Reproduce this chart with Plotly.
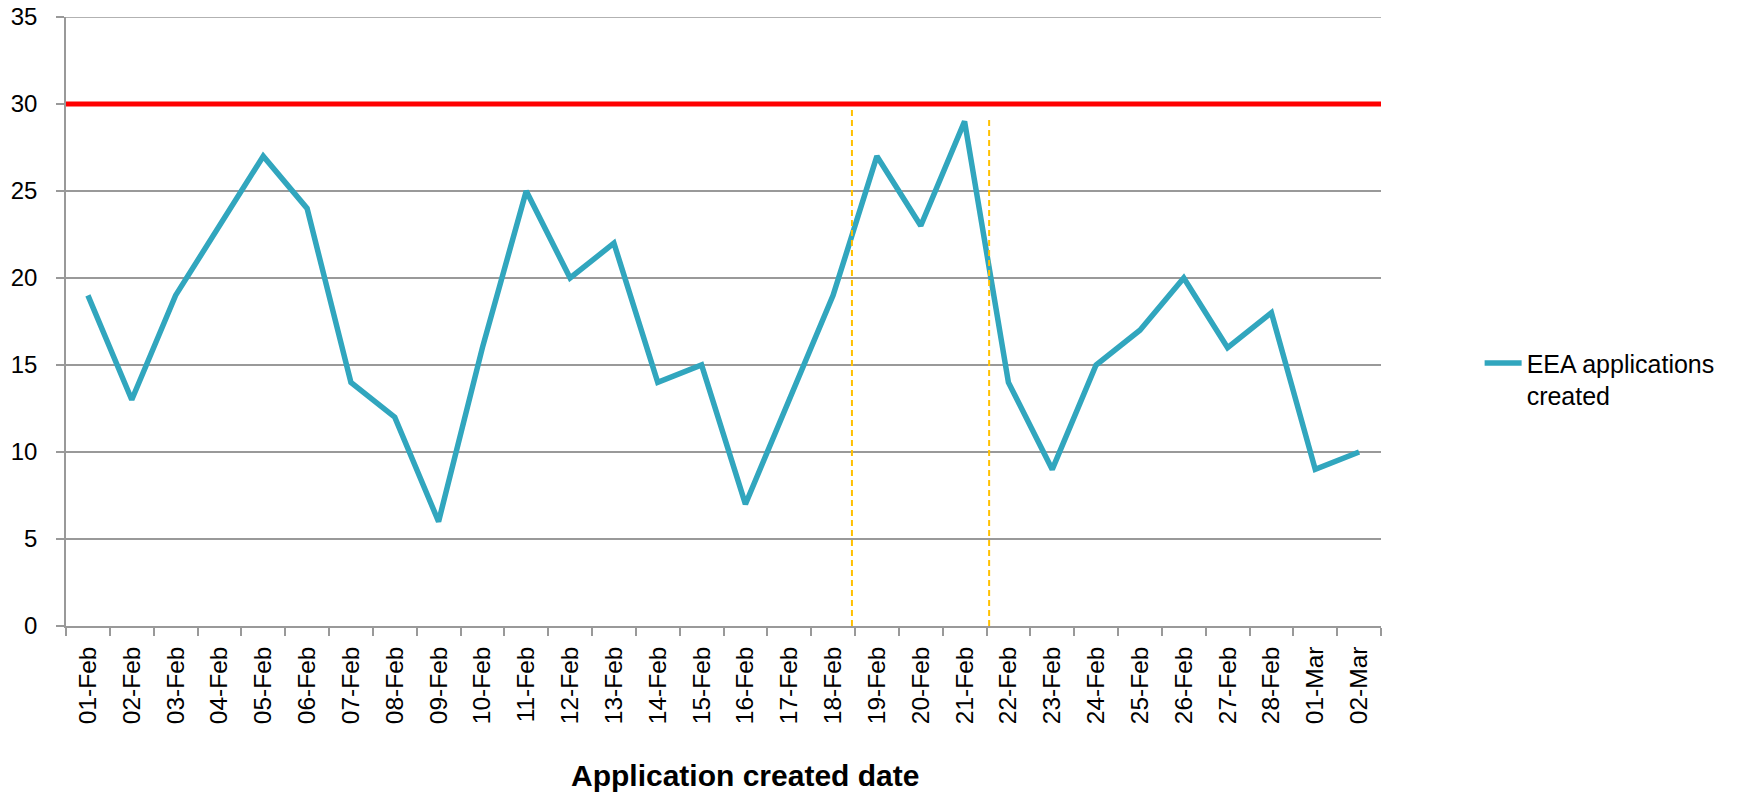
import plotly.graph_objects as go

dates = ["01-Feb", "02-Feb", "03-Feb", "04-Feb", "05-Feb", "06-Feb", "07-Feb", "08-Feb",
         "09-Feb", "10-Feb", "11-Feb", "12-Feb", "13-Feb", "14-Feb", "15-Feb", "16-Feb",
         "17-Feb", "18-Feb", "19-Feb", "20-Feb", "21-Feb", "22-Feb", "23-Feb", "24-Feb",
         "25-Feb", "26-Feb", "27-Feb", "28-Feb", "01-Mar", "02-Mar"]
applications = [19, 13, 19, 23, 27, 24, 14, 12, 6, 16, 25, 20, 22, 14, 15, 7,
                13, 19, 27, 23, 29, 14, 9, 15, 17, 20, 16, 18, 9, 10]
threshold = 30
marker_positions = [17.43, 20.56]   # category-index positions of the dashed markers
marker_tops = [29.8, 29.3]
y_ticks = [0, 5, 10, 15, 20, 25, 30, 35]
y_max = 35

FONT = "Liberation Sans, Arial, sans-serif"
GRID = "#999999"

fig = go.Figure()
fig.add_trace(go.Scatter(
    x=dates, y=applications, mode="lines",
    name="EEA applications<br>created",
    line=dict(color="#31A6BE", width=5.5, shape="linear"),
))

# top gridline (plotly drops gridlines at the range edge)
fig.add_shape(type="line", xref="paper", x0=0, x1=1, yref="y", y0=y_max, y1=y_max,
              line=dict(color=GRID, width=1.5), layer="below")
fig.add_shape(type="line", xref="paper", x0=0, x1=1, yref="y", y0=threshold, y1=threshold,
              line=dict(color="#FF0000", width=5), layer="above")
for xp, top in zip(marker_positions, marker_tops):
    fig.add_shape(type="line", xref="x", x0=xp, x1=xp, yref="y", y0=0, y1=top,
                  line=dict(color="#FFC000", width=2, dash="6px,4px"), layer="above")

fig.add_annotation(text="<b>Application created date</b>", xref="paper", yref="paper",
                   x=0.516, y=-0.245, yanchor="middle", showarrow=False,
                   font=dict(family=FONT, size=30, color="#000000"))

fig.update_layout(
    width=1729, height=786,
    margin=dict(l=58, r=356, t=9, b=168, autoexpand=False),
    paper_bgcolor="white", plot_bgcolor="white",
    font=dict(family=FONT, size=24, color="#000000"),
    showlegend=True,
    legend=dict(x=1.075, y=0.405, xanchor="left", yanchor="middle",
                font=dict(family=FONT, size=25, color="#000000"),
                valign="top", itemwidth=37, bgcolor="rgba(0,0,0,0)"),
)
fig.update_xaxes(
    type="category", range=[-0.5, len(dates) - 0.5], automargin=False,
    tickson="boundaries", ticks="outside", ticklen=8, tickcolor=GRID, tickwidth=1.5,
    tickangle=-90, showline=True, linecolor=GRID, linewidth=1.5,
    showgrid=False, tickfont=dict(family=FONT, size=24.5), ticklabelstandoff=9,
    ticklabeloverflow="allow",
)
fig.update_yaxes(
    range=[0, y_max], tickvals=y_ticks, ticks="outside", ticklen=8, tickcolor=GRID, tickwidth=1.5,
    showline=True, linecolor=GRID, linewidth=1.5, automargin=False,
    showgrid=True, gridcolor=GRID, gridwidth=1.5, zeroline=False,
    tickfont=dict(family=FONT, size=24), ticklabelstandoff=14,
    ticklabeloverflow="allow",
)

fig.write_html("out.html")
